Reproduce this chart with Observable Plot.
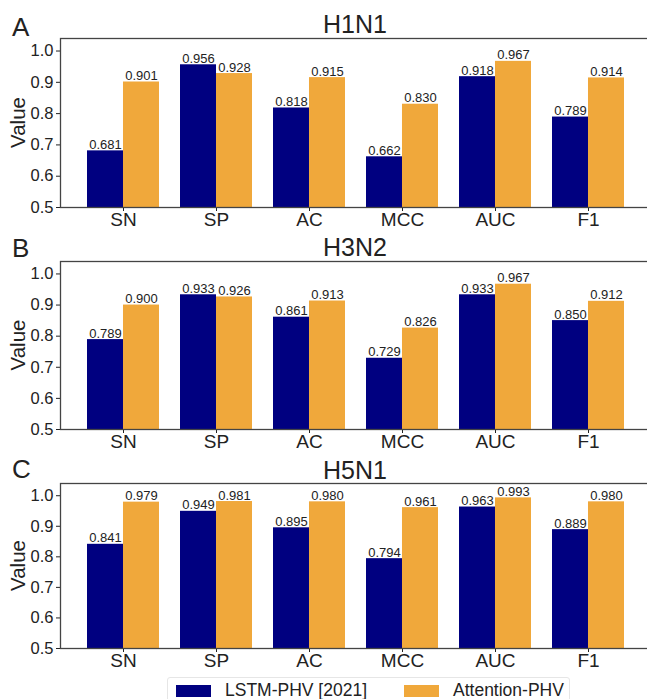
<!DOCTYPE html>
<html><head><meta charset="utf-8">
<script src="https://cdn.jsdelivr.net/npm/d3@7"></script>
<script src="https://cdn.jsdelivr.net/npm/@observablehq/plot@0.6"></script>
<style>
html,body{margin:0;padding:0;overflow:hidden;background:#fff;width:647px;height:699px}
#root{position:relative;width:647px;height:699px;overflow:hidden;font-family:"Liberation Sans",Arial,sans-serif;color:#222}
.panel{position:absolute;left:0;width:650px}
.panel svg{max-width:none !important}
.panel g[aria-label="x-axis tick label"] text{font-size:19px}
.panel g[aria-label="y-axis tick label"] text{font-size:16.5px}
#overlay{position:absolute;left:0;top:0;pointer-events:none}
#legend{position:absolute;left:167px;top:677px;width:403px;height:40px;border:1px solid #e6e6e6;border-radius:3px;box-sizing:border-box;background:#fff}
.sw{position:absolute;top:7px;width:35px;height:12px}
.lt{position:absolute;top:2px;font-size:17.5px;line-height:20px;white-space:nowrap;color:#222}
</style></head><body><div id="root"></div>
<script>
const metrics = ["SN", "SP", "AC", "MCC", "AUC", "F1"];
const seriesNames = ["LSTM-PHV [2021]", "Attention-PHV"];
const seriesColors = ["#000080", "#f0a83b"];
const panelLetters = ["A", "B", "C"];
const panelTitles = ["H1N1", "H3N2", "H5N1"];
const lstmH1N1 = [0.681, 0.956, 0.818, 0.662, 0.918, 0.789];
const attH1N1  = [0.901, 0.928, 0.915, 0.830, 0.967, 0.914];
const lstmH3N2 = [0.789, 0.933, 0.861, 0.729, 0.933, 0.850];
const attH3N2  = [0.900, 0.926, 0.913, 0.826, 0.967, 0.912];
const lstmH5N1 = [0.841, 0.949, 0.895, 0.794, 0.963, 0.889];
const attH5N1  = [0.979, 0.981, 0.980, 0.961, 0.993, 0.980];
const yTicks = [0.5, 0.6, 0.7, 0.8, 0.9, 1.0];
const yLabel = "Value";

const FONT = '"Liberation Sans", Arial, sans-serif';
const root = document.getElementById("root");

const layout = [
  {top: 0, plotH: 169, lstm: lstmH1N1, att: attH1N1},
  {top: 223, plotH: 168, lstm: lstmH3N2, att: attH3N2},
  {top: 445, plotH: 165, lstm: lstmH5N1, att: attH5N1}
];

const W = 650, mL = 60;
const padIn = 0.226, padOut = 0.285;
const step = (W - mL) / (metrics.length - padIn + 2 * padOut);
const half = step * (1 - padIn) / 2;
const fmt = d3.format(".3f");

layout.forEach((p, k) => {
  const rows = metrics.map((m, i) => ({metric: m, lstm: p.lstm[i], att: p.att[i]}));
  const chart = Plot.plot({
    width: W, height: 38 + p.plotH + 30,
    marginTop: 38, marginBottom: 30, marginLeft: mL, marginRight: 0,
    style: {fontFamily: FONT, fontSize: "16px", color: "#222", background: "transparent", overflow: "visible"},
    x: {domain: metrics, range: [mL, W], paddingInner: padIn, paddingOuter: padOut, align: 0.5, label: null},
    y: {domain: [0.5, 1.04], label: null},
    marks: [
      Plot.barY(rows, {x: "metric", y1: 0.5, y2: "lstm", fill: seriesColors[0], insetRight: half}),
      Plot.barY(rows, {x: "metric", y1: 0.5, y2: "att", fill: seriesColors[1], insetLeft: half}),
      Plot.text(rows, {x: "metric", y: "lstm", text: d => fmt(d.lstm), dx: -half / 2, dy: -2, lineAnchor: "bottom", fontSize: 13, fill: "#222"}),
      Plot.text(rows, {x: "metric", y: "att", text: d => fmt(d.att), dx: half / 2, dy: -2, lineAnchor: "bottom", fontSize: 13, fill: "#222"}),
      Plot.axisY({ticks: yTicks, tickFormat: ".1f", tickSize: 4, tickPadding: 3, label: null}),
      Plot.axisX({tickSize: 4, tickPadding: 1, label: null}),
      Plot.frame({stroke: "#444", strokeWidth: 1.3})
    ]
  });
  const wrap = document.createElement("div");
  wrap.className = "panel";
  wrap.style.top = p.top + "px";
  wrap.appendChild(chart);
  root.appendChild(wrap);
});

// overlay texts: panel letters, titles, y label
const ov = d3.select(root).append("svg").attr("id", "overlay").attr("width", 647).attr("height", 699)
  .style("font-family", FONT).style("fill", "#222");
const titleBase = [33, 256, 479], letterBase = [36, 257, 478];
layout.forEach((p, k) => {
  ov.append("text").attr("x", 12).attr("y", letterBase[k]).attr("font-size", 26).text(panelLetters[k]);
  ov.append("text").attr("x", 355).attr("y", titleBase[k]).attr("font-size", 25).attr("text-anchor", "middle").text(panelTitles[k]);
  const cy = p.top + 38 + p.plotH / 2;
  ov.append("text").attr("transform", `translate(25,${cy}) rotate(-90)`).attr("font-size", 20.5).attr("text-anchor", "middle").text(yLabel);
});

// legend
const lg = document.createElement("div");
lg.id = "legend";
const swLeft = [8, 236], txtLeft = [57, 285];
seriesNames.forEach((name, i) => {
  const sw = document.createElement("div");
  sw.className = "sw"; sw.style.left = swLeft[i] + "px"; sw.style.background = seriesColors[i];
  const t = document.createElement("div");
  t.className = "lt"; t.style.left = txtLeft[i] + "px"; t.textContent = name;
  lg.appendChild(sw); lg.appendChild(t);
});
root.appendChild(lg);
</script></body></html>
